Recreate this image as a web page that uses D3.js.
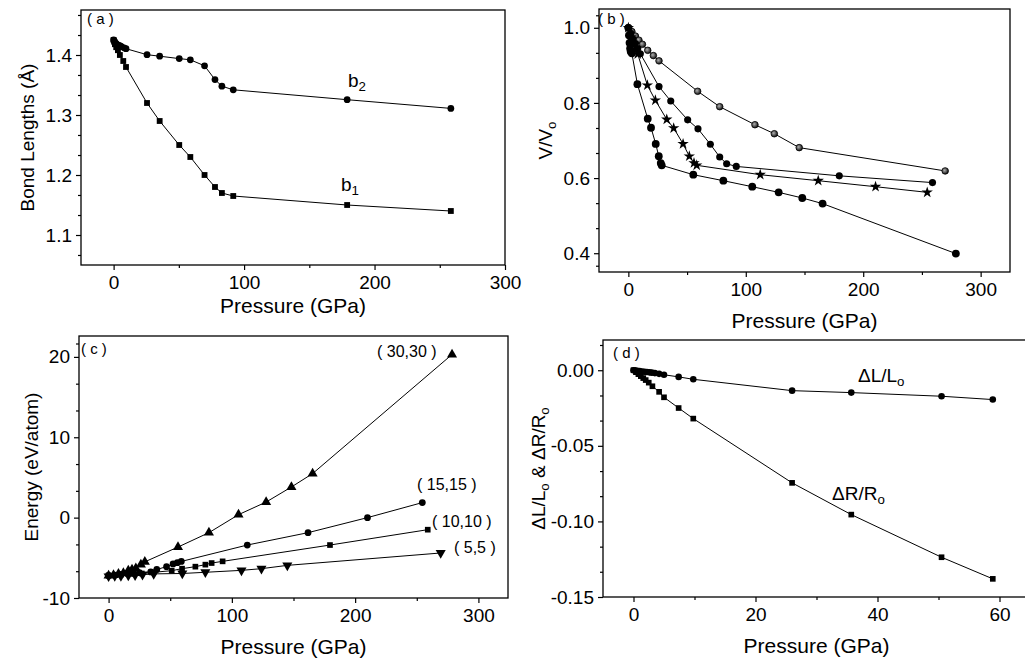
<!DOCTYPE html>
<html>
<head>
<meta charset="utf-8">
<script src="https://cdn.jsdelivr.net/npm/d3@7"></script>
<style>
  html, body { margin: 0; padding: 0; background: #fff; }
  svg { display: block; font-family: "Liberation Sans", Arial, sans-serif; }
</style>
</head>
<body>
<svg id="chart" width="1025" height="659"></svg>
<script>
// ---- panel (a): bond lengths ----
const b1Pressure = [0, 0.5, 1, 2, 3.3, 4.8, 7.4, 9.5, 25.6, 35.3, 50.3, 58.8, 69.7, 77.7, 83, 91.7, 179, 258.5];
const b1Length   = [1.425, 1.422, 1.418, 1.413, 1.408, 1.400, 1.390, 1.380, 1.320, 1.290, 1.250, 1.230, 1.200, 1.180, 1.170, 1.165, 1.150, 1.140];
const b2Pressure = [0, 0.5, 1, 2, 3, 4, 5, 6, 8, 9.5, 25.6, 35.3, 50.3, 58.8, 69.7, 77.7, 83, 91.7, 179, 258.5];
const b2Length   = [1.425, 1.423, 1.421, 1.419, 1.417, 1.416, 1.415, 1.414, 1.412, 1.4105, 1.4005, 1.398, 1.394, 1.392, 1.382, 1.359, 1.348, 1.342, 1.3255, 1.311];

// ---- panel (b): V/Vo ----
const v1Pressure = [0, 3, 6, 9, 12, 16.5, 21.3, 26.1, 59, 77.8, 107.8, 124.3, 145.5, 269.8];
const v1Ratio    = [1.0, 0.99, 0.978, 0.967, 0.956, 0.94, 0.926, 0.912, 0.831, 0.790, 0.742, 0.718, 0.681, 0.619];
const v2Pressure = [0, 2, 4, 6, 8, 10.2, 26.1, 36.1, 50.5, 59.3, 69.8, 77.8, 83.7, 91.9, 179.6, 259];
const v2Ratio    = [1.0, 0.985, 0.97, 0.958, 0.945, 0.931, 0.8435, 0.805, 0.755, 0.731, 0.690, 0.656, 0.638, 0.631, 0.606, 0.588];
const v3Pressure = [0, 2, 4, 6, 8, 16.2, 23, 32.7, 38.6, 46.6, 51.9, 55.9, 58.2, 112.3, 161.7, 210.5, 254.5];
const v3Ratio    = [1.0, 0.975, 0.955, 0.94, 0.93, 0.847, 0.807, 0.756, 0.733, 0.691, 0.658, 0.640, 0.634, 0.609, 0.593, 0.577, 0.562];
const v4Pressure = [0, 0.5, 1, 1.5, 2, 3, 7.7, 16.5, 19.3, 23.3, 25.9, 27.6, 28.4, 55.3, 80.9, 105.5, 128, 148.1, 165.4, 278.9];
const v4Ratio    = [1.0, 0.98, 0.96, 0.945, 0.937, 0.932, 0.85, 0.758, 0.734, 0.691, 0.658, 0.640, 0.634, 0.609, 0.593, 0.577, 0.562, 0.547, 0.532, 0.399];

// ---- panel (c): energy ----
const e30Pressure = [0, 4, 8, 12, 16, 19, 22.1, 26.2, 29.4, 56.3, 81.4, 105.4, 127.8, 148.3, 165.5, 278.6];
const e30Energy   = [-7.2, -7.15, -7.0, -6.9, -6.6, -6.45, -6.3, -5.85, -5.5, -3.66, -1.87, 0.37, 1.94, 3.81, 5.48, 20.3];
const e15Pressure = [0, 5, 10, 15, 20, 25, 34.2, 39.1, 47, 52.3, 55.8, 59, 112.5, 161.8, 210, 254.5];
const e15Energy   = [-7.2, -7.15, -7.05, -6.95, -6.9, -6.85, -6.75, -6.45, -6.1, -5.76, -5.6, -5.45, -3.41, -1.87, 0, 1.87];
const e10Pressure = [0, 5, 10, 20, 27, 36.4, 51.2, 59.6, 70.4, 78.5, 83.6, 92.5, 179.6, 258.9];
const e10Energy   = [-7.2, -7.15, -7.1, -7.0, -6.95, -6.8, -6.6, -6.35, -6.1, -5.85, -5.65, -5.44, -3.41, -1.5];
const e5Pressure  = [0, 5, 10, 16, 21.5, 27.5, 36.6, 59.8, 78.5, 107.8, 124, 145, 269.4];
const e5Energy    = [-7.3, -7.25, -7.25, -7.2, -7.15, -7.1, -7.0, -6.95, -6.8, -6.56, -6.35, -5.94, -4.4];
const energyLabels = ["( 30,30 )", "( 15,15 )", "( 10,10 )", "( 5,5 )"];

// ---- panel (d): dL/Lo and dR/Ro ----
const dLPressure = [0, 0.3, 0.6, 1, 1.4, 1.8, 2.2, 2.6, 3, 3.5, 4.2, 5, 7.4, 9.8, 26, 35.7, 50.5, 58.9];
const dLRatio    = [0, -0.0002, -0.0004, -0.0006, -0.0008, -0.001, -0.0012, -0.0014, -0.0016, -0.0019, -0.0024, -0.003, -0.0044, -0.006, -0.0135, -0.0148, -0.0172, -0.0194];
const dRPressure = [0, 0.4, 0.8, 1.2, 1.6, 2, 2.5, 3.1, 4.2, 5, 7.4, 9.8, 26, 35.7, 50.5, 58.9];
const dRRatio    = [0, -0.0013, -0.0026, -0.0039, -0.0052, -0.0065, -0.0082, -0.0106, -0.0143, -0.0179, -0.025, -0.032, -0.0745, -0.0955, -0.1237, -0.138];

// ---- tick values ----
const pressureTicks = [0, 100, 200, 300];
const pressureMinor = [50, 150, 250];
const bondTicks = [1.1, 1.2, 1.3, 1.4];
const bondMinor = [1.0667, 1.1333, 1.1667, 1.2333, 1.2667, 1.3333, 1.3667, 1.4333, 1.4667];
const volTicks = [0.4, 0.6, 0.8, 1.0];
const volMinor = [0.3667, 0.4667, 0.5333, 0.6667, 0.7333, 0.8667, 0.9333, 1.0333];
const energyTicks = [-10, 0, 10, 20];
const energyMinor = [-6.667, -3.333, 3.333, 6.667, 13.333, 16.667, 21.667];
const strainPressureTicks = [0, 20, 40, 60];
const strainPressureMinor = [10, 30, 50];
const strainTicks = [-0.15, -0.10, -0.05, 0.00];
const strainMinor = [-0.1333, -0.1167, -0.0833, -0.0667, -0.0333, -0.0167, 0.0167];

const svg = d3.select("#chart");

// grey ball marker used in (b)
const defs = svg.append("defs");
const grad = defs.append("radialGradient").attr("id", "ball").attr("cx", "40%").attr("cy", "40%").attr("r", "60%");
grad.append("stop").attr("offset", "0%").attr("stop-color", "#b0b0b0");
grad.append("stop").attr("offset", "100%").attr("stop-color", "#111");

/**
 * draw one framed panel with left/bottom axes, returns scales and group
 */
let makePanel = (cfg) => {
    const g = svg.append("g");
    const x = d3.scaleLinear().domain(cfg.xDomain).range([cfg.left, cfg.right]);
    const y = d3.scaleLinear().domain(cfg.yDomain).range([cfg.bottom, cfg.top]);

    // frame
    g.append("rect")
        .attr("x", cfg.left).attr("y", cfg.top)
        .attr("width", cfg.right - cfg.left).attr("height", cfg.bottom - cfg.top)
        .attr("fill", "none").attr("stroke", "#000").attr("stroke-width", 1.3);

    const fixAxis = (a) => {
        a.select(".domain").remove();
        a.selectAll("line").attr("stroke", "#000").attr("stroke-width", 1.2);
        a.selectAll("text").attr("font-family", null).attr("font-size", 19).attr("fill", "#000");
    };

    g.append("g").attr("transform", `translate(0,${cfg.bottom})`)
        .call(d3.axisBottom(x).tickValues(cfg.xTicks).tickSize(5).tickPadding(6).tickFormat(d3.format("d")))
        .call(fixAxis);
    g.append("g").attr("transform", `translate(0,${cfg.bottom})`)
        .call(d3.axisBottom(x).tickValues(cfg.xMinor).tickSize(3).tickFormat(""))
        .call(fixAxis);
    g.append("g").attr("transform", `translate(${cfg.left},0)`)
        .call(d3.axisLeft(y).tickValues(cfg.yTicks).tickSize(5).tickPadding(4).tickFormat(cfg.yFormat))
        .call(fixAxis);
    g.append("g").attr("transform", `translate(${cfg.left},0)`)
        .call(d3.axisLeft(y).tickValues(cfg.yMinor).tickSize(3).tickFormat(""))
        .call(fixAxis);

    // x title
    g.append("text")
        .attr("x", (cfg.left + Math.min(cfg.right, 1030)) / 2)
        .attr("y", cfg.bottom + cfg.xTitleGap)
        .attr("text-anchor", "middle").attr("font-size", 21)
        .text("Pressure (GPa)");

    // y title
    const yt = g.append("text")
        .attr("transform", `translate(${cfg.yTitleX},${(cfg.top + cfg.bottom) / 2}) rotate(-90)`)
        .attr("text-anchor", "middle").attr("dy", "0.35em").attr("font-size", 19);
    cfg.yTitle(yt);

    // panel letter
    g.append("text").attr("x", cfg.letterX).attr("y", cfg.letterY)
        .attr("font-size", 15).text(cfg.letter);

    return { g, x, y };
};

let drawSeries = (panel, xs, ys, symbolType, size, fill, rotate) => {
    const pts = xs.map((d, i) => [d, ys[i]]);
    const line = d3.line().x(d => panel.x(d[0])).y(d => panel.y(d[1]));
    panel.g.append("path").datum(pts)
        .attr("d", line).attr("fill", "none").attr("stroke", "#000").attr("stroke-width", 1);
    const sym = d3.symbol().type(symbolType).size(size);
    panel.g.append("g").selectAll("path")
        .data(pts)
        .join("path")
        .attr("d", sym)
        .attr("transform", d => `translate(${panel.x(d[0])},${panel.y(d[1])})` + (rotate ? ` rotate(${rotate})` : ""))
        .attr("fill", fill)
        .attr("stroke", fill === "#000" ? "none" : "#000")
        .attr("stroke-width", 0.8);
};

let subText = (sel, parts) => {
    // parts: [text, isSub]
    parts.forEach(([t, sub], i) => {
        const prevSub = i > 0 && parts[i - 1][1];
        const ts = sel.append("tspan").text(t);
        if (sub) ts.attr("font-size", "0.7em").attr("dy", "0.3em");
        else if (prevSub) ts.attr("dy", "-0.21em");
    });
};

// ---- (a) ----
const pa = makePanel({
    left: 81, right: 505, top: 10, bottom: 265,
    xDomain: [-25, 300], yDomain: [1.05, 1.475],
    xTicks: pressureTicks, xMinor: pressureMinor,
    yTicks: bondTicks, yMinor: bondMinor, yFormat: d3.format(".1f"),
    xTitleGap: 48, yTitleX: 27,
    yTitle: t => t.text("Bond Lengths (Å)"),
    letter: "( a )", letterX: 87, letterY: 24
});
drawSeries(pa, b2Pressure, b2Length, d3.symbolCircle, 36, "#000");
drawSeries(pa, b1Pressure, b1Length, d3.symbolSquare, 34, "#000");
subText(pa.g.append("text").attr("x", 348).attr("y", 87).attr("font-size", 19), [["b", false], ["2", true]]);
subText(pa.g.append("text").attr("x", 341).attr("y", 191).attr("font-size", 19), [["b", false], ["1", true]]);

// ---- (b) ----
const pb = makePanel({
    left: 599, right: 1010, top: 9, bottom: 272,
    xDomain: [-25, 325], yDomain: [0.35, 1.05],
    xTicks: pressureTicks, xMinor: pressureMinor,
    yTicks: volTicks, yMinor: volMinor, yFormat: d3.format(".1f"),
    xTitleGap: 56, yTitleX: 545,
    yTitle: t => subText(t, [["V/V", false], ["o", true]]),
    letter: "( b )", letterX: 598, letterY: 24
});
drawSeries(pb, v1Pressure, v1Ratio, d3.symbolCircle, 34, "url(#ball)");
drawSeries(pb, v2Pressure, v2Ratio, d3.symbolCircle, 40, "#000");
drawSeries(pb, v3Pressure, v3Ratio, d3.symbolStar, 40, "#000");
drawSeries(pb, v4Pressure, v4Ratio, d3.symbolCircle, 48, "#000");

// ---- (c) ----
const pc = makePanel({
    left: 79, right: 508, top: 336, bottom: 598,
    xDomain: [-24, 324], yDomain: [-10, 22.6],
    xTicks: pressureTicks, xMinor: pressureMinor,
    yTicks: energyTicks, yMinor: energyMinor, yFormat: d => d.toString(),
    xTitleGap: 56, yTitleX: 31,
    yTitle: t => t.text("Energy (eV/atom)"),
    letter: "( c )", letterX: 81, letterY: 354
});
drawSeries(pc, e30Pressure, e30Energy, d3.symbolTriangle, 44, "#000");
drawSeries(pc, e15Pressure, e15Energy, d3.symbolCircle, 36, "#000");
drawSeries(pc, e10Pressure, e10Energy, d3.symbolSquare, 32, "#000");
drawSeries(pc, e5Pressure, e5Energy, d3.symbolTriangle, 44, "#000", 180);
const energyLabelPos = [[377, 357], [417, 490], [432, 527], [454, 553]];
pc.g.selectAll("text.lab").data(energyLabels).join("text")
    .attr("class", "lab")
    .attr("x", (d, i) => energyLabelPos[i][0]).attr("y", (d, i) => energyLabelPos[i][1])
    .attr("font-size", 16).text(d => d);

// ---- (d) ----
const pd = makePanel({
    left: 603, right: 1030, top: 340, bottom: 597,
    xDomain: [-5, 65], yDomain: [-0.15, 0.02],
    xTicks: strainPressureTicks, xMinor: strainPressureMinor,
    yTicks: strainTicks, yMinor: strainMinor, yFormat: d => d.toFixed(2),
    xTitleGap: 56, yTitleX: 538,
    yTitle: t => subText(t, [["ΔL/L", false], ["o", true], [" &  ΔR/R", false], ["o", true]]),
    letter: "( d )", letterX: 613, letterY: 358
});
drawSeries(pd, dLPressure, dLRatio, d3.symbolCircle, 34, "#000");
drawSeries(pd, dRPressure, dRRatio, d3.symbolSquare, 32, "#000");
subText(pd.g.append("text").attr("x", 858).attr("y", 382).attr("font-size", 19), [["ΔL/L", false], ["o", true]]);
subText(pd.g.append("text").attr("x", 832).attr("y", 500).attr("font-size", 19), [["ΔR/R", false], ["o", true]]);
</script>
</body>
</html>
